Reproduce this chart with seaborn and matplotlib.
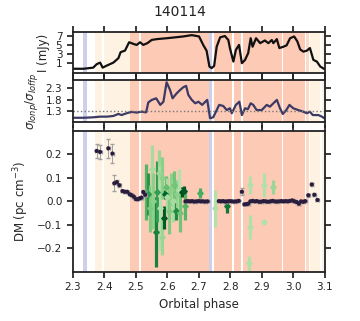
import numpy as np
import matplotlib
matplotlib.use("Agg")
import matplotlib.pyplot as plt
import seaborn as sns

# light curve (I in mJy) vs orbital phase
flux_phase = [2.300, 2.334, 2.365, 2.376, 2.387, 2.395, 2.408, 2.429, 2.445, 2.452,
              2.466, 2.479, 2.495, 2.503, 2.514, 2.524, 2.537, 2.551, 2.567, 2.598,
              2.625, 2.651, 2.678, 2.701, 2.715, 2.725, 2.734, 2.741, 2.749, 2.757,
              2.768, 2.783, 2.794, 2.799, 2.810, 2.818, 2.828, 2.837, 2.847, 2.857,
              2.865, 2.871, 2.882, 2.895, 2.910, 2.921, 2.932, 2.937, 2.948, 2.956,
              2.969, 2.979, 2.990, 3.003, 3.013, 3.022, 3.032, 3.043, 3.053, 3.064,
              3.075, 3.086, 3.098]
flux = [-0.25, -0.25, 0.0, 0.77, 1.13, 0.0, 0.46, 1.13, 2.12, 3.47,
        3.83, 5.7, 5.27, 5.1, 5.7, 5.1, 5.5, 6.23, 6.4, 6.6,
        6.8, 7.0, 7.3, 7.0, 5.0, 3.8, 0.24, -0.1, 0.4, 4.7,
        6.8, 7.1, 6.2, 4.4, 1.36, 4.0, 5.1, 1.0, 1.74, 3.25,
        6.6, 4.7, 6.6, 5.5, 6.1, 5.5, 6.2, 5.5, 6.4, 4.4,
        4.7, 5.0, 6.6, 7.0, 5.9, 4.1, 3.6, 3.8, 4.4, 1.74,
        1.36, 0.24, -0.28]

# on-pulse / off-pulse rms ratio
ratio_phase = [2.300, 2.334, 2.365, 2.387, 2.408, 2.429, 2.445, 2.455, 2.471, 2.487,
               2.503, 2.519, 2.533, 2.540, 2.551, 2.565, 2.578, 2.588, 2.598, 2.609,
               2.617, 2.630, 2.641, 2.651, 2.660, 2.667, 2.678, 2.689, 2.699, 2.711,
               2.721, 2.727, 2.736, 2.746, 2.757, 2.765, 2.778, 2.789, 2.799, 2.805,
               2.818, 2.829, 2.837, 2.847, 2.856, 2.865, 2.873, 2.884, 2.900, 2.916,
               2.926, 2.937, 2.948, 2.958, 2.967, 2.978, 2.988, 3.000, 3.016, 3.032,
               3.043, 3.053, 3.062, 3.080, 3.091, 3.099]
ratio = [1.0, 1.0, 1.02, 1.05, 1.05, 1.08, 1.17, 1.12, 1.2, 1.26,
         1.23, 1.27, 1.24, 1.68, 1.79, 1.86, 1.57, 1.71, 2.57, 2.23,
         1.86, 2.08, 2.23, 2.35, 2.41, 2.01, 1.79, 1.64, 1.71, 1.57,
         1.71, 1.79, 0.98, 1.02, 1.34, 1.57, 1.52, 1.34, 1.42, 1.2,
         1.57, 1.71, 1.12, 1.42, 1.38, 1.64, 1.57, 1.34, 1.34, 1.57,
         1.49, 1.64, 1.79, 1.42, 1.17, 1.34, 1.57, 1.42, 1.34, 1.27,
         1.2, 1.27, 1.12, 1.12, 1.05, 0.98]
ratio_ref = 1.3

# DM from profile fits (dark points)
dm_phase = [2.376, 2.387, 2.413, 2.426, 2.432, 2.440, 2.448, 2.458, 2.465, 2.473,
            2.481, 2.487, 2.494, 2.500, 2.506, 2.513, 2.518, 2.524, 2.530,
            2.658, 2.665, 2.672, 2.679, 2.686, 2.693, 2.700, 2.707, 2.714, 2.721,
            2.728, 2.764, 2.771, 2.778, 2.785, 2.792, 2.799, 2.806, 2.813, 2.820,
            2.827, 2.837, 2.845, 2.851, 2.857, 2.864, 2.871, 2.878, 2.885, 2.892,
            2.899, 2.906, 2.913, 2.920, 2.927, 2.934, 2.941, 2.948, 2.955, 2.962,
            2.969, 2.976, 2.983, 2.990, 2.997, 3.004, 3.011, 3.018, 3.025, 3.032,
            3.038, 3.048, 3.059, 3.067, 3.077]
dm_val = [0.215, 0.211, 0.226, 0.204, 0.077, 0.082, 0.069, 0.044, 0.041, 0.041,
          0.030, 0.026, 0.020, 0.010, 0.009, 0.013, 0.016, 0.040, 0.028,
          0.000, 0.001, 0.000, 0.001, -0.001, 0.000, 0.001, 0.000, 0.000, -0.001,
          0.000, 0.001, 0.000, 0.001, -0.001, 0.000, 0.001, 0.000, -0.001, 0.000,
          0.002, 0.041, -0.013, -0.012, -0.010, 0.000, 0.002, 0.000, 0.001, -0.002,
          -0.001, 0.001, 0.000, -0.002, 0.000, 0.002, 0.000, -0.001, 0.000, 0.001,
          0.000, 0.001, 0.000, 0.002, 0.004, 0.000, -0.003, -0.010, 0.000, -0.002,
          0.001, 0.026, 0.072, 0.028, 0.006]
dm_err = [0.03, 0.03, 0.04, 0.04, 0.035, 0.008, 0.006, 0.004, 0.004, 0.004,
          0.004, 0.004, 0.004, 0.004, 0.004, 0.004, 0.004, 0.006, 0.004,
          0.002, 0.002, 0.002, 0.002, 0.002, 0.002, 0.002, 0.002, 0.002, 0.002,
          0.002, 0.002, 0.002, 0.002, 0.002, 0.002, 0.002, 0.002, 0.002, 0.002,
          0.002, 0.015, 0.004, 0.004, 0.004, 0.002, 0.002, 0.002, 0.002, 0.002,
          0.002, 0.002, 0.002, 0.002, 0.002, 0.002, 0.002, 0.002, 0.002, 0.002,
          0.002, 0.002, 0.002, 0.002, 0.002, 0.002, 0.002, 0.004, 0.002, 0.002,
          0.002, 0.006, 0.008, 0.006, 0.005]

# DM from single pulses (green, shade = significance)
g_phase = [2.533, 2.540, 2.546, 2.552, 2.555, 2.563, 2.566, 2.574, 2.578, 2.583,
           2.585, 2.590, 2.592, 2.595, 2.600, 2.605, 2.612, 2.618, 2.622, 2.628,
           2.632, 2.637, 2.642, 2.648, 2.652, 2.655, 2.704, 2.752, 2.789, 2.862,
           2.862, 2.860, 2.908, 2.907, 2.936]
g_val = [0.04, 0.03, -0.03, 0.14, 0.00, -0.13, 0.04, 0.12, -0.03, 0.10,
         -0.15, -0.07, 0.03, 0.06, 0.02, -0.04, 0.05, 0.00, 0.07, -0.04,
         0.03, 0.05, -0.05, 0.04, 0.045, -0.02, 0.035, -0.03, -0.02, 0.07,
         -0.11, -0.265, 0.07, -0.09, 0.06]
g_err = [0.12, 0.09, 0.10, 0.10, 0.12, 0.15, 0.13, 0.10, 0.18, 0.09,
         0.08, 0.05, 0.02, 0.05, 0.08, 0.10, 0.07, 0.09, 0.06, 0.04,
         0.06, 0.09, 0.08, 0.02, 0.02, 0.06, 0.02, 0.08, 0.03, 0.04,
         0.05, 0.03, 0.05, 0.0, 0.03]
g_shade = [0.45, 0.65, 0.3, 0.15, 0.25, 0.75, 0.6, 0.2, 0.1, 0.25,
           0.2, 0.95, 0.9, 0.4, 0.15, 0.3, 0.25, 0.15, 0.35, 0.7,
           0.25, 0.1, 0.35, 1.0, 0.95, 0.45, 0.5, 0.1, 0.8, 0.1,
           0.1, 0.1, 0.1, 0.1, 0.2]

# background shading (scan ranges)
lav_start = [2.334, 2.733]
lav_end = [2.345, 2.741]
cream_start = [2.371, 2.399, 3.053, 3.091]
cream_end = [2.392, 2.482, 3.086, 3.100]
salmon_start = [2.482, 2.516, 2.749, 2.811, 2.840, 2.969]
salmon_end = [2.509, 2.733, 2.806, 2.835, 2.964, 3.037]
pale_start = [3.040]
pale_end = [3.051]

sns.set_theme(style="ticks", rc={
    "xtick.top": True, "ytick.right": True,
    "xtick.direction": "out", "ytick.direction": "out",
    "xtick.major.size": 4, "ytick.major.size": 4,
    "axes.linewidth": 1.3, "axes.edgecolor": "#222222",
    "xtick.color": "#222222", "ytick.color": "#222222",
    "xtick.labelsize": 7.5, "ytick.labelsize": 7.5,
    "axes.labelsize": 8.5,
})
plt.rcParams["font.family"] = ["DejaVu Sans"]

fig = plt.figure(figsize=(3.6, 3.21), dpi=100)
ax1 = fig.add_axes([0.202, 0.7726, 0.700, 0.1277])
ax2 = fig.add_axes([0.202, 0.6190, 0.700, 0.1318])
ax3 = fig.add_axes([0.202, 0.1536, 0.700, 0.4383])

for ax in (ax1, ax2, ax3):
    for a, b in zip(lav_start, lav_end):
        ax.axvspan(a, b, color="#cfcfea", lw=0, zorder=0)
    for a, b in zip(cream_start, cream_end):
        ax.axvspan(a, b, color="#fef3e2", lw=0, zorder=0)
    for a, b in zip(salmon_start, salmon_end):
        ax.axvspan(a, b, color="#fdcab5", lw=0, zorder=0)
    for a, b in zip(pale_start, pale_end):
        ax.axvspan(a, b, color="#fdd9c8", lw=0, zorder=0)
    ax.set_xlim(2.3, 3.1)
    ax.set_xticks([2.3, 2.4, 2.5, 2.6, 2.7, 2.8, 2.9, 3.0, 3.1])

# top: flux
sns.lineplot(x=flux_phase, y=flux, ax=ax1, color="#111111", lw=1.6)
ax1.set_ylim(-1.2, 8.0)
ax1.set_yticks([1, 3, 5, 7])
ax1.set_ylabel("I (mJy)")
ax1.set_xticklabels([])

# middle: rms ratio
sns.lineplot(x=ratio_phase, y=ratio, ax=ax2, color="#3c3a64", lw=1.6)
ax2.axhline(ratio_ref, color="#777777", ls=":", lw=1)
ax2.set_ylim(0.8, 2.67)
ax2.set_yticks([1.3, 1.8, 2.3])
ax2.set_ylabel(r"$\sigma_{Ionp}/\sigma_{Ioffp}$")
ax2.set_xticklabels([])

# bottom: DM
cmap = plt.cm.Greens
for p, v, e, s in zip(g_phase, g_val, g_err, g_shade):
    c = cmap(0.25 + 0.72 * s)
    ax3.errorbar(p, v, yerr=e, fmt="D", ms=2.8, color=c, ecolor=c,
                 elinewidth=2.3, capsize=0, zorder=2)
ax3.errorbar(dm_phase, dm_val, yerr=dm_err, xerr=0.005, fmt="none",
             ecolor="#a0a0a0", elinewidth=0.7, capsize=1.5, zorder=3)
sns.scatterplot(x=dm_phase, y=dm_val, ax=ax3, color="#2a1c3c", s=9,
                edgecolor="none", zorder=4)
ax3.set_ylim(-0.3, 0.3)
ax3.set_yticks([-0.2, -0.1, 0.0, 0.1, 0.2])
ax3.set_ylabel(r"DM (pc cm$^{-3}$)")
ax3.set_xlabel("Orbital phase")

fig.text(0.5, 1 - 12.5 / 321, "140114", ha="center", va="center", fontsize=10,
         color="#222222")

fig.savefig("out.png", dpi=100)
